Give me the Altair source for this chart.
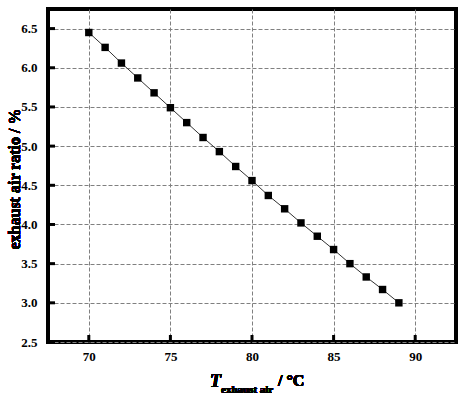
import altair as alt
import pandas as pd

temps = [70, 71, 72, 73, 74, 75, 76, 77, 78, 79, 80, 81, 82, 83, 84, 85, 86, 87, 88, 89]
ratios = [6.45, 6.26, 6.06, 5.87, 5.68, 5.49, 5.30, 5.11, 4.93, 4.74, 4.56, 4.37,
          4.20, 4.02, 3.85, 3.68, 3.50, 3.33, 3.17, 3.00]
x_ticks = [70, 75, 80, 85, 90]
y_ticks = [2.5, 3.0, 3.5, 4.0, 4.5, 5.0, 5.5, 6.0, 6.5]

df = pd.DataFrame({"T": temps, "ratio": ratios})
xt = pd.DataFrame({"T": x_ticks})
yt = pd.DataFrame({"ratio": y_ticks})

FONT = "Liberation Serif"
xs = alt.Scale(domain=[67.5, 92.5], nice=False, zero=False)
ys = alt.Scale(domain=[2.5, 6.75], nice=False, zero=False)

xaxis = alt.Axis(values=x_ticks, grid=True, gridDash=[4, 2], gridColor="#808080",
                 gridWidth=1, domain=False, ticks=False, labelPadding=8,
                 labelFont=FONT, labelFontWeight="bold", labelFontSize=13,
                 labelColor="black", title=None, format="d")
yaxis = alt.Axis(values=y_ticks, grid=True, gridDash=[4, 2], gridColor="#808080",
                 gridWidth=1, domain=False, ticks=False, labelPadding=11,
                 labelFont=FONT, labelFontWeight="bold", labelFontSize=13,
                 labelColor="black", title=None, format=".1f")

base = alt.Chart(df)
line = base.mark_line(color="#333333", strokeWidth=1).encode(
    x=alt.X("T:Q", scale=xs, axis=xaxis),
    y=alt.Y("ratio:Q", scale=ys, axis=yaxis),
)
pts = base.mark_point(shape="square", filled=True, color="black", size=55, opacity=1).encode(
    x=alt.X("T:Q", scale=xs), y=alt.Y("ratio:Q", scale=ys)
)
yticks = alt.Chart(yt).mark_rule(color="black", strokeWidth=3).encode(
    y=alt.Y("ratio:Q", scale=ys), x=alt.value(0), x2=alt.value(7)
)
xticks = alt.Chart(xt).mark_rule(color="black", strokeWidth=3).encode(
    x=alt.X("T:Q", scale=xs), y=alt.value(333), y2=alt.value(326)
)

ytitle = alt.Chart(df).mark_text(
    text="exhaust air ratio / %", angle=270, font=FONT, fontWeight="bold",
    fontSize=16, align="center", baseline="middle", color="black"
).encode(x=alt.value(-33), y=alt.value(170))

t1 = alt.Chart(df).mark_text(
    text="T", font=FONT, fontWeight="bold", fontStyle="italic", fontSize=18,
    align="left", baseline="alphabetic", color="black"
).encode(x=alt.value(162), y=alt.value(378))
t2 = alt.Chart(df).mark_text(
    text="exhaust air", font=FONT, fontWeight="bold", fontSize=11,
    align="left", baseline="alphabetic", color="black"
).encode(x=alt.value(173), y=alt.value(384))
t3 = alt.Chart(df).mark_text(
    text="/ °C", font=FONT, fontWeight="bold", fontSize=16,
    align="left", baseline="alphabetic", color="black"
).encode(x=alt.value(230), y=alt.value(377))

chart = alt.layer(line, pts, yticks, xticks, ytitle, t1, t2, t3).properties(
    width=408, height=333,
    autosize=alt.AutoSizeParams(type="none"),
    padding={"left": 48, "top": 9, "right": 6, "bottom": 55},
    background="white",
).configure_view(stroke="black", strokeWidth=4)

chart.save("out.html", embed_options={"renderer": "svg", "actions": False})
